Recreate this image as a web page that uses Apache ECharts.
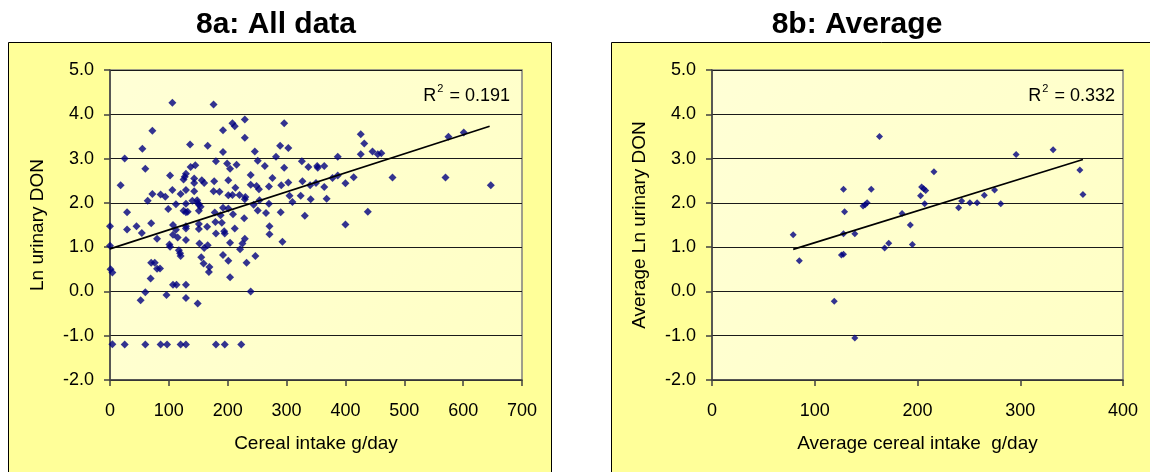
<!DOCTYPE html>
<html>
<head>
<meta charset="utf-8">
<title>Urinary DON vs cereal intake</title>
<script src="https://cdn.jsdelivr.net/npm/echarts@6/dist/echarts.min.js"></script>
<style>
  html, body { margin: 0; padding: 0; background: #ffffff; }
  #chart { width: 1150px; height: 472px; }
</style>
</head>
<body>
<div id="chart"></div>
<script>
// 8a: every individual observation (cereal intake g/day, ln urinary DON)
const allIntake = [
  0, 0, 1, 4, 4, 18, 25, 25, 29, 29, 45, 52, 54, 55, 60, 60, 60, 64, 69, 70,
  70, 72, 72, 76, 80, 80, 85, 86, 86, 94, 96, 97, 99, 101, 102, 102, 106, 106, 107, 107,
  107, 112, 112, 113, 115, 117, 119, 120, 120, 120, 125, 125, 127, 129, 129, 129, 129, 129, 129, 129,
  129, 129, 129, 132, 136, 137, 140, 143, 143, 143, 145, 148, 149, 149, 151, 151, 151, 151, 152, 154,
  155, 156, 159, 160, 160, 165, 166, 166, 168, 169, 176, 176, 177, 178, 179, 180, 180, 180, 186, 188,
  190, 192, 192, 192, 192, 194, 195, 195, 199, 201, 201, 201, 201, 204, 204, 204, 208, 208, 209, 212,
  212, 213, 215, 220, 221, 223, 225, 228, 229, 229, 229, 230, 229, 232, 239, 239, 239, 244, 246, 247,
  249, 251, 251, 253, 254, 263, 265, 270, 270, 271, 271, 276, 282, 289, 290, 291, 293, 296, 296, 303,
  303, 305, 310, 324, 326, 327, 331, 337, 340, 341, 350, 352, 353, 364, 364, 368, 378, 387, 387, 400,
  400, 414, 426, 426, 432, 438, 446, 455, 461, 480, 570, 575, 601, 647
];
const allLnDon = [
  1.47, 1.03, 0.50, 0.43, -1.19, 2.40, 3.00, -1.20, 1.79, 1.40, 1.47, -0.20, 1.32, 3.22, -0.02, 2.77, -1.20, 2.05, 0.29, 1.54,
  0.65, 3.63, 2.20, 0.65, 1.19, 0.51, 0.52, 2.19, -1.20, 2.14, -0.08, -1.20, 1.86, 1.06, 2.62, 1.01, 4.26, 2.29, 1.50, 1.28,
  0.15, 1.97, 1.39, 0.15, 1.22, 0.93, 0.86, 0.80, 2.20, -1.20, 2.53, 1.82, 2.59, -1.20, 2.66, 2.29, 1.79, 1.47, 1.42, 1.16,
  0.15, -0.15, 1.98, 1.80, 3.32, 2.81, 2.05, 2.55, 2.45, 2.26, 2.85, 2.06, 2.00, -0.27, 1.96, 1.82, 1.52, 1.41, 1.08, 1.91,
  0.77, 2.51, 0.63, 2.45, 0.98, 1.46, 3.29, 1.04, 0.44, 0.55, 4.22, 2.26, 2.49, 1.78, 1.57, 2.94, 1.31, -1.20, 2.25, 1.72,
  1.55, 3.64, 3.15, 1.89, 0.82, 1.36, 1.31, -1.20, 2.89, 2.51, 2.17, 1.87, 0.69, 2.77, 1.10, 0.32, 3.80, 2.18, 1.74, 3.73,
  1.42, 2.34, 2.86, 2.18, 0.95, -1.20, 1.08, 1.65, 3.88, 3.47, 2.08, 2.13, 1.19, 0.65, 2.63, 2.41, 0.00, 1.96, 3.16, 0.80,
  2.38, 2.95, 1.83, 2.31, 2.06, 2.83, 1.77, 2.37, 1.98, 1.47, 1.29, 2.56, 3.04, 3.29, 1.79, 2.40, 1.12, 3.80, 2.79, 3.24,
  2.46, 2.16, 2.02, 2.16, 2.94, 2.49, 1.71, 2.81, 2.40, 2.08, 2.45, 2.83, 2.79, 2.83, 2.36, 2.09, 2.56, 3.04, 2.62, 2.44,
  1.51, 2.58, 3.55, 3.10, 3.34, 1.80, 3.16, 3.10, 3.12, 2.57, 2.57, 3.49, 3.59, 2.40
];

// 8b: averages per subject
const avgIntake = [
  79, 85, 119, 126, 128, 128, 128, 129, 139, 139, 147, 149, 151, 155, 163, 168, 172, 185, 193, 195,
  203, 204, 206, 208, 207, 216, 240, 243, 251, 258, 265, 275, 281, 296, 332, 358, 361
];
const avgLnDon = [
  1.28, 0.69, -0.22, 0.82, 0.84, 1.30, 2.31, 1.80, -1.05, 1.30, 1.93, 1.96, 2.00, 2.31, 3.50, 0.98, 1.09, 1.76, 1.50, 1.06,
  2.16, 2.36, 2.32, 2.28, 1.98, 2.70, 1.89, 2.04, 2.00, 2.00, 2.17, 2.29, 1.98, 3.09, 3.20, 2.74, 2.19
];

// Linear trend lines: [x, y] at each end
const allTrend = [[0, 0.96], [645, 3.73]];
const avgTrend = [[79, 0.95], [361, 2.98]];

// R² of each fit
const allR2 = '0.191';
const avgR2 = '0.332';

// Axis ranges and tick step
const yMin = -2, yMax = 5, yStep = 1;
const allXMax = 700, avgXMax = 400, xStep = 100;

const zip = (xs, ys) => xs.map((x, i) => [x, ys[i]]);

const FONT = "'Liberation Sans', Arial, Helvetica, sans-serif";
const PANEL = '#FFFF99';
const MARK = '#000080';
const PLOT = new echarts.graphic.LinearGradient(0, 0, 1, 1, [
  { offset: 0, color: '#FFFFD6' },
  { offset: 1, color: '#FFFFC4' }
]);

function xAxisOf(max, name) {
  return {
    type: 'value', min: 0, max: max, interval: xStep,
    name: name, nameLocation: 'middle', nameGap: 54,
    nameTextStyle: { fontFamily: FONT, fontSize: 19, color: '#000' },
    axisLine: { show: true, onZero: false, lineStyle: { color: '#404040', width: 1.5 } },
    axisTick: { show: true, inside: false, length: 6, lineStyle: { color: '#404040', width: 1.5 } },
    axisLabel: { margin: 22, fontFamily: FONT, fontSize: 18, color: '#000' },
    splitLine: { show: false }
  };
}
function yAxisOf(name) {
  return {
    type: 'value', min: yMin, max: yMax, interval: yStep,
    name: name, nameLocation: 'middle', nameGap: 63, nameRotate: 90,
    nameTextStyle: { fontFamily: FONT, fontSize: 19, color: '#000' },
    axisLine: { show: true, onZero: false, lineStyle: { color: '#404040', width: 1.5 } },
    axisTick: { show: true, inside: false, length: 6, lineStyle: { color: '#404040', width: 1.5 } },
    axisLabel: { margin: 16, fontFamily: FONT, fontSize: 18, color: '#000',
                 formatter: v => v.toFixed(1) },
    splitLine: { show: true, lineStyle: { color: '#1a1a1a', width: 1 } }
  };
}
function r2Title(value, right) {
  return {
    text: '{b|R}{s|2}{b| = ' + value + '}', right: right, top: 78,
    textStyle: {
      fontFamily: FONT, fontSize: 18, fontWeight: 'normal', color: '#000',
      rich: {
        b: { fontFamily: FONT, fontSize: 18, color: '#000', lineHeight: 22, verticalAlign: 'bottom' },
        s: { fontFamily: FONT, fontSize: 11, color: '#000', lineHeight: 11, verticalAlign: 'top', padding: [0, 1, 0, 1] }
      }
    }
  };
}

const chart = echarts.init(document.getElementById('chart'), null, { renderer: 'canvas' });
chart.setOption({
  animation: false,
  backgroundColor: '#ffffff',
  graphic: [
    { type: 'rect', z: -10, shape: { x: 8.5, y: 42.5, width: 543, height: 460 },
      style: { fill: PANEL, stroke: '#000', lineWidth: 1 } },
    { type: 'rect', z: -10, shape: { x: 611.5, y: 42.5, width: 600, height: 460 },
      style: { fill: PANEL, stroke: '#000', lineWidth: 1 } }
  ],
  title: [
    { text: '8a: All data', left: 271, top: 5, textAlign: 'center',
      textStyle: { fontFamily: FONT, fontSize: 30, fontWeight: 'bold', color: '#000' } },
    { text: '8b: Average', left: 852, top: 5, textAlign: 'center',
      textStyle: { fontFamily: FONT, fontSize: 30, fontWeight: 'bold', color: '#000' } },
    r2Title(allR2, 1150 - 515),
    r2Title(avgR2, 1150 - 1120)
  ],
  grid: [
    { left: 110, top: 70, width: 412, height: 310, show: true,
      backgroundColor: PLOT, borderColor: '#808080', borderWidth: 1.5 },
    { left: 712, top: 70, width: 411, height: 310, show: true,
      backgroundColor: PLOT, borderColor: '#808080', borderWidth: 1.5 }
  ],
  xAxis: [
    Object.assign(xAxisOf(allXMax, 'Cereal intake g/day'), { gridIndex: 0 }),
    Object.assign(xAxisOf(avgXMax, 'Average cereal intake  g/day'), { gridIndex: 1 })
  ],
  yAxis: [
    Object.assign(yAxisOf('Ln urinary DON'), { gridIndex: 0 }),
    Object.assign(yAxisOf('Average Ln urinary DON'), { gridIndex: 1 })
  ],
  series: [
    { type: 'scatter', xAxisIndex: 0, yAxisIndex: 0, data: zip(allIntake, allLnDon),
      symbol: 'diamond', symbolSize: 8, itemStyle: { color: MARK }, silent: true, z: 2 },
    { type: 'line', xAxisIndex: 0, yAxisIndex: 0, data: allTrend, showSymbol: false,
      lineStyle: { color: '#000', width: 1.7 }, silent: true, z: 3 },
    { type: 'scatter', xAxisIndex: 1, yAxisIndex: 1, data: zip(avgIntake, avgLnDon),
      symbol: 'diamond', symbolSize: 7, itemStyle: { color: MARK }, silent: true, z: 2 },
    { type: 'line', xAxisIndex: 1, yAxisIndex: 1, data: avgTrend, showSymbol: false,
      lineStyle: { color: '#000', width: 1.7 }, silent: true, z: 3 }
  ]
});
</script>
</body>
</html>
